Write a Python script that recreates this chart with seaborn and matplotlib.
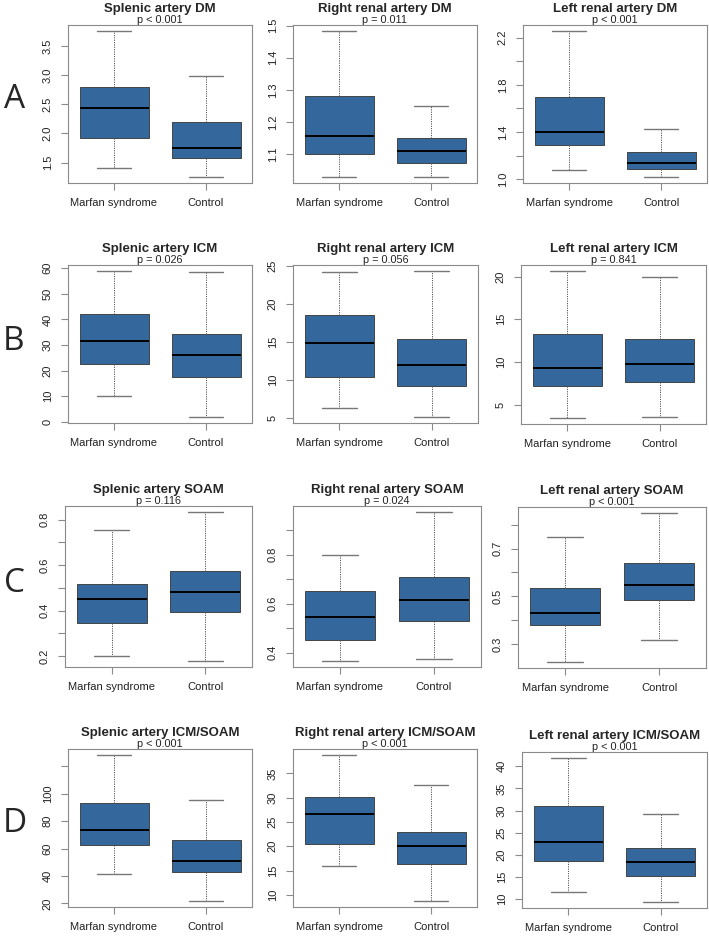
import numpy as np
import pandas as pd
import seaborn as sns
import matplotlib
matplotlib.use("Agg")
import matplotlib.pyplot as plt

# five-number summaries: min, q1, median, q3, max
groups = ["Marfan syndrome", "Control"]
row_letters = ["A", "B", "C", "D"]

titles = ["Splenic artery DM", "Right renal artery DM", "Left renal artery DM",
          "Splenic artery ICM", "Right renal artery ICM", "Left renal artery ICM",
          "Splenic artery SOAM", "Right renal artery SOAM", "Left renal artery SOAM",
          "Splenic artery ICM/SOAM", "Right renal artery ICM/SOAM", "Left renal artery ICM/SOAM"]
pvals = ["p < 0.001", "p = 0.011", "p < 0.001",
         "p = 0.026", "p = 0.056", "p = 0.841",
         "p = 0.116", "p = 0.024", "p < 0.001",
         "p < 0.001", "p < 0.001", "p < 0.001"]

marfan = [[1.41, 1.92, 2.44, 2.80, 3.76],
          [1.027, 1.10, 1.157, 1.279, 1.484],
          [1.08, 1.292, 1.397, 1.695, 2.257],
          [10.2, 22.7, 31.4, 42.3, 59.0],
          [6.3, 10.4, 14.9, 18.6, 24.2],
          [3.43, 7.18, 9.3, 13.27, 20.67],
          [0.20, 0.347, 0.451, 0.518, 0.756],
          [0.366, 0.45, 0.547, 0.653, 0.80],
          [0.224, 0.378, 0.430, 0.534, 0.749],
          [41.2, 62.4, 73.4, 93.4, 128.5],
          [15.9, 20.5, 26.6, 30.2, 38.8],
          [11.7, 18.7, 22.8, 31.0, 41.9]]
control = [[1.25, 1.57, 1.75, 2.20, 2.98],
           [1.027, 1.07, 1.109, 1.15, 1.25],
           [1.017, 1.088, 1.136, 1.23, 1.426],
           [1.8, 17.4, 26.0, 34.3, 58.4],
           [5.1, 9.25, 12.0, 15.4, 24.4],
           [3.55, 7.61, 9.73, 12.73, 19.92],
           [0.178, 0.393, 0.481, 0.576, 0.834],
           [0.375, 0.530, 0.616, 0.711, 0.975],
           [0.315, 0.485, 0.548, 0.638, 0.85],
           [21.7, 43.2, 51.3, 66.1, 95.4],
           [8.7, 16.4, 20.0, 22.9, 32.5],
           [9.3, 15.2, 18.4, 21.6, 29.3]]

yticks = [[1.5, 2.0, 2.5, 3.0, 3.5],
          [1.1, 1.2, 1.3, 1.4, 1.5],
          [1.0, 1.2, 1.4, 1.6, 1.8, 2.0, 2.2],
          [0, 10, 20, 30, 40, 50, 60],
          [5, 10, 15, 20, 25],
          [5, 10, 15, 20],
          [0.2, 0.3, 0.4, 0.5, 0.6, 0.7, 0.8],
          [0.4, 0.5, 0.6, 0.7, 0.8, 0.9],
          [0.3, 0.4, 0.5, 0.6, 0.7, 0.8],
          [20, 40, 60, 80, 100, 120],
          [10, 15, 20, 25, 30, 35],
          [10, 15, 20, 25, 30, 35, 40]]
ylabels = [["1.5", "2.0", "2.5", "3.0", "3.5"],
           ["1.1", "1.2", "1.3", "1.4", "1.5"],
           ["1.0", "", "1.4", "", "1.8", "", "2.2"],
           ["0", "10", "20", "30", "40", "50", "60"],
           ["5", "10", "15", "20", "25"],
           ["5", "10", "15", "20"],
           ["0.2", "", "0.4", "", "0.6", "", "0.8"],
           ["0.4", "", "0.6", "", "0.8", ""],
           ["0.3", "", "0.5", "", "0.7", ""],
           ["20", "40", "60", "80", "100", ""],
           ["10", "15", "20", "25", "30", "35"],
           ["10", "15", "20", "25", "30", "35", "40"]]

# panel rectangles in pixels: left, top, right, bottom
W, H = 709, 936
rects = [(68, 25, 252, 183), (293, 25, 477, 183), (523, 25, 707, 183),
         (68, 265, 252, 423), (293, 265, 478, 423), (521, 265, 706, 424),
         (65, 506, 252, 667), (293, 506, 481, 667), (518, 507, 706, 668),
         (68, 749, 252, 907), (293, 749, 477, 907), (522, 752, 707, 908)]
letter_pos = [(15, 100), (14, 341), (15, 583), (15, 824)]

sns.set_style("ticks")
plt.rcParams['font.family'] = ['Liberation Sans', 'DejaVu Sans']

blue = "#34679B"
frame = "#8a8a8a"

fig = plt.figure(figsize=(W / 100, H / 100), dpi=100)

for i in range(12):
    l, t, r, b = rects[i]
    ax = fig.add_axes([l / W, 1 - b / H, (r - l) / W, (b - t) / H])
    df = pd.DataFrame({"group": [groups[0]] * 5 + [groups[1]] * 5,
                       "value": marfan[i] + control[i]})
    sns.boxplot(data=df, x="group", y="value", order=groups, ax=ax,
                whis=(0, 100), width=0.75, color=blue, saturation=1,
                linecolor="#444444", linewidth=0.7, showfliers=False,
                medianprops=dict(color="black", linewidth=1.4),
                whiskerprops=dict(color="#555555", linestyle=(0, (1.2, 1.2)), linewidth=0.7),
                capprops=dict(color="#777777", linewidth=1.0))
    lo = min(marfan[i] + control[i])
    hi = max(marfan[i] + control[i])
    pad = (hi - lo) * 0.04
    ax.set_ylim(lo - pad, hi + pad)
    ax.set_xlim(-0.5, 1.5)
    ax.set_yticks(yticks[i])
    ax.set_yticklabels(ylabels[i], rotation=90, va="center")
    ax.set_xlabel("")
    ax.set_ylabel("")
    for s in ax.spines.values():
        s.set_visible(True)
        s.set_color(frame)
        s.set_linewidth(0.8)
    ax.tick_params(length=5, width=0.8, color=frame, pad=6, labelsize=8,
                   labelcolor="#222222")
    ax.annotate(titles[i], xy=(0.5, 1), xycoords="axes fraction",
                xytext=(0, 9.5), textcoords="offset points", ha="center",
                va="baseline", fontsize=9.5, fontweight="bold")
    ax.annotate(pvals[i], xy=(0.5, 1), xycoords="axes fraction",
                xytext=(0, 1.6), textcoords="offset points", ha="center",
                va="baseline", fontsize=7.8, color="#222222")

for k, letter in enumerate(row_letters):
    x, y = letter_pos[k]
    fig.text(x / W, 1 - y / H, letter, ha="center", va="center",
             fontsize=24, family=["Open Sans", "DejaVu Sans"])

fig.savefig("out.png", dpi=100)
